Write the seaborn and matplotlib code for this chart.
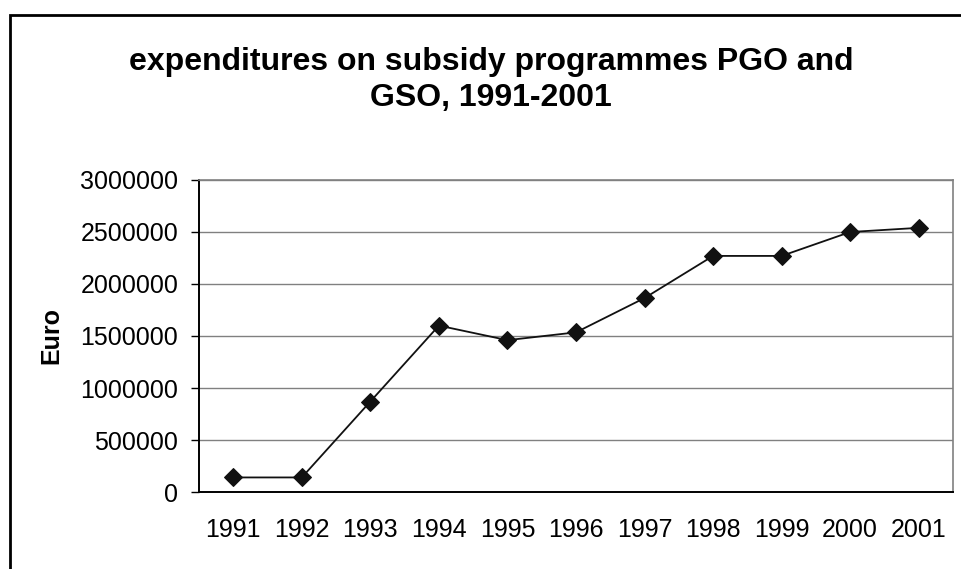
import numpy as np
import pandas as pd
import matplotlib
matplotlib.use("Agg")
import matplotlib.pyplot as plt
import matplotlib.patches as patches
import seaborn as sns

# values
years = ["1991", "1992", "1993", "1994", "1995", "1996",
         "1997", "1998", "1999", "2000", "2001"]
euro = [140000, 140000, 870000, 1600000, 1460000, 1535000,
        1865000, 2270000, 2270000, 2500000, 2540000]
yticks = [0, 500000, 1000000, 1500000, 2000000, 2500000, 3000000]

df = pd.DataFrame({"year": years, "euro": euro})

sns.set_style("white")
plt.rcParams["font.family"] = ["Liberation Sans", "DejaVu Sans"]
plt.rcParams["text.color"] = "black"

fig = plt.figure(figsize=(9.62, 5.69), dpi=100)
ax = fig.add_axes([199 / 962, 1 - 492 / 569, 754 / 962, 312 / 569])

sns.lineplot(data=df, x="year", y="euro", ax=ax, color="#111111",
             marker="D", markersize=9, markeredgecolor="#111111",
             linewidth=1.3, sort=False)

ax.set_ylim(0, 3000000)
ax.set_xlim(-0.5, len(years) - 0.5)
ax.set_yticks(yticks)
ax.set_yticklabels([str(v) for v in yticks], fontsize=18, color="black")
ax.set_xticks(range(len(years)))
ax.set_xticklabels(years, fontsize=18, color="black")
ax.set_xticks(np.arange(-0.5, len(years)), minor=True)
ax.tick_params(axis="x", which="major", length=0, pad=19)
ax.tick_params(axis="x", which="minor", length=6, width=1, direction="out", color="black")
ax.tick_params(axis="y", which="major", length=6, width=1, direction="out", color="black", pad=9, left=True)

ax.yaxis.grid(True, color="#808080", linewidth=1)
ax.xaxis.grid(False)
ax.set_axisbelow(True)

for s in ["left", "bottom"]:
    ax.spines[s].set_color("black")
    ax.spines[s].set_linewidth(1.4)
for s in ["top", "right"]:
    ax.spines[s].set_color("#808080")
    ax.spines[s].set_linewidth(1.2)

ax.set_xlabel("")
ax.set_ylabel("Euro", fontsize=18, fontweight="bold", color="black")
ax.yaxis.set_label_coords(-0.18, 0.5)

fig.text(491 / 962, 1 - 80 / 569, "expenditures on subsidy programmes PGO and\nGSO, 1991-2001",
         ha="center", va="center", fontsize=23, fontweight="bold", linespacing=1.25)

# outer chart frame (only left and top edges are visible)
frame = patches.Rectangle((9.5 / 962, -0.1), 1.2, 1 - 15.5 / 569 + 0.1,
                          transform=fig.transFigure, fill=False,
                          edgecolor="black", linewidth=2, clip_on=False)
fig.patches.append(frame)

fig.savefig("out.png", dpi=100)
